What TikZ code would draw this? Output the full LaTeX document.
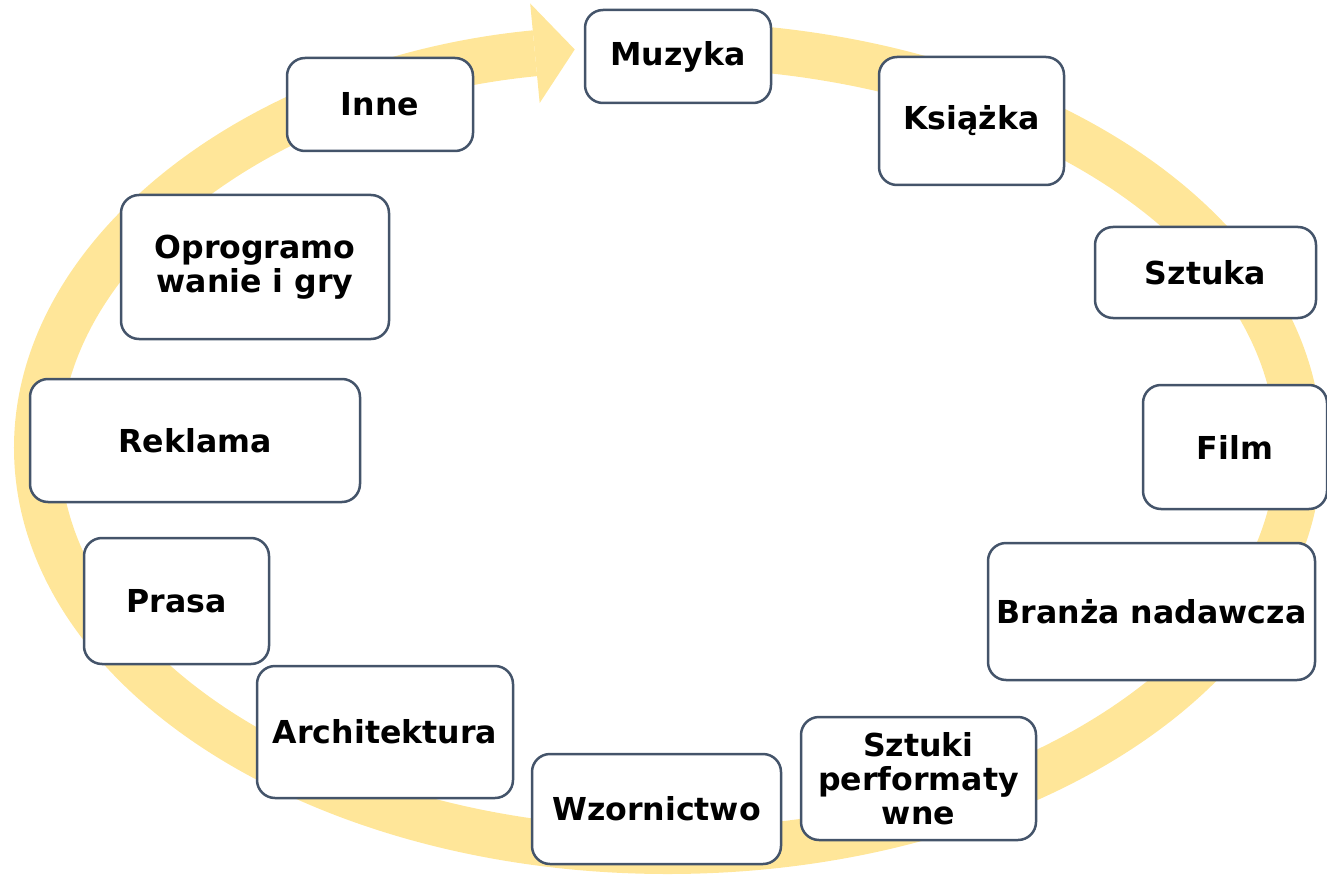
\documentclass[tikz,border=0pt]{standalone}
\usepackage{fontspec}
\setmainfont{DejaVu Sans}
\usetikzlibrary{arrows.meta}
\definecolor{ringyellow}{RGB}{255,230,153}
\definecolor{boxline}{RGB}{68,84,106}

\begin{document}
\begin{tikzpicture}[x=0.5pt,y=-0.5pt,
	box/.style={draw=boxline,fill=white,line width=1.25pt,rounded corners=9pt,inner sep=0pt,align=center,font=\fontsize{15.8}{17}\selectfont\bfseries},
	ring/.style={draw=ringyellow,line width=23pt}]
	\useasboundingbox (0,0) rectangle (1327,877);
	\coordinate (c) at (668,448);
	\draw [ring,-{Triangle[width=50pt,length=20pt,line width=0pt]}] (c) ++(92:315.5pt and 201.5pt) arc[start angle=92,end angle=-261.5,x radius=315.5pt,y radius=201.5pt];
	\node (muzyka) [box,minimum width=93pt,minimum height=46.5pt] at (678,56.5) {Muzyka};
	\node (ksiazka) [box,minimum width=92.5pt,minimum height=64pt] at (971.5,121) {Książka};
	\node (sztuka) [box,minimum width=110.5pt,minimum height=45.5pt] at (1205.5,272.5) {Sztuka};
	\node (film) [box,minimum width=92pt,minimum height=62pt] at (1235,447) {Film};
	\node (branza) [box,minimum width=163.5pt,minimum height=68.5pt] at (1151.5,611.5) {Branża nadawcza};
	\node (sztuki) [box,minimum width=117.5pt,minimum height=61.5pt] at (918.5,778.5) {Sztuki\\performaty\\wne};
	\node (wzor) [box,minimum width=124.5pt,minimum height=55pt] at (656.5,809) {Wzornictwo};
	\node (arch) [box,minimum width=128pt,minimum height=66pt] at (385,732) {Architektura};
	\node (prasa) [box,minimum width=92.5pt,minimum height=63pt] at (176.5,601) {Prasa};
	\node (reklama) [box,minimum width=165pt,minimum height=61.5pt] at (195,440.5) {Reklama};
	\node (oprog) [box,minimum width=134pt,minimum height=72pt] at (255,267) {Oprogramo\\wanie i gry};
	\node (inne) [box,minimum width=93pt,minimum height=46.5pt] at (380,104.5) {Inne};
\end{tikzpicture}
\end{document}
